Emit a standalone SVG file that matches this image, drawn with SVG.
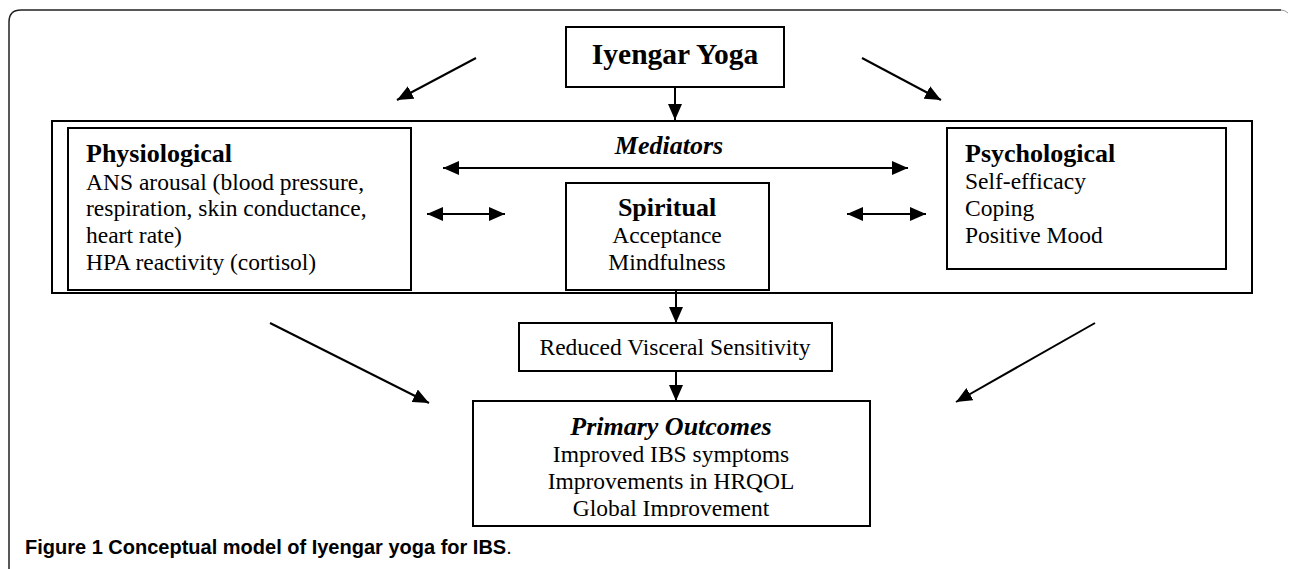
<svg xmlns="http://www.w3.org/2000/svg" width="1290" height="569" viewBox="0 0 1290 569">
<style>
.box{fill:none;stroke:#000;stroke-width:2}
.t{font-family:"Liberation Serif","Times New Roman",serif;font-size:23.5px;fill:#000}
.h{font-weight:bold;font-size:26px}
.i{font-style:italic}
.m{text-anchor:middle}
.c{stroke:#000;stroke-width:2;fill:none}
.cap{font-family:"Liberation Sans",Arial,sans-serif;font-size:20px;fill:#000}
</style>
<defs>
<marker id="ah" viewBox="0 0 16 14" refX="16" refY="7" markerWidth="16" markerHeight="14" markerUnits="userSpaceOnUse" orient="auto-start-reverse">
<path d="M0,0 L16,7 L0,14 z" fill="#000"/>
</marker>
<clipPath id="pc"><rect x="470" y="395" width="405" height="122"/></clipPath>
</defs>
<rect width="1290" height="569" fill="#fff"/>
<path d="M9,569 V22 Q9,10 21,10 H1281" fill="none" stroke="#222" stroke-width="1.5"/>
<path d="M1281,10 Q1285,10 1288,13" fill="none" stroke="#999" stroke-width="1"/>

<g id="iyengar">
<rect class="box" x="566" y="27" width="218" height="60"/>
<text class="t m" x="675" y="64" style="font-weight:bold;font-size:29.5px">Iyengar Yoga</text>
</g>

<g id="mediators">
<rect class="box" x="52" y="121" width="1200" height="172"/>
<text class="t h i m" x="669" y="154">Mediators</text>
</g>

<g id="physiological">
<rect class="box" x="68" y="128" width="343" height="162"/>
<text class="t h" x="86" y="162">Physiological</text>
<text class="t" x="86" y="190">ANS arousal (blood pressure,</text>
<text class="t" x="86" y="216">respiration, skin conductance,</text>
<text class="t" x="86" y="243">heart rate)</text>
<text class="t" x="86" y="270">HPA reactivity (cortisol)</text>
</g>

<g id="psychological">
<rect class="box" x="947" y="128" width="279" height="141"/>
<text class="t h" x="965" y="162">Psychological</text>
<text class="t" x="965" y="189">Self-efficacy</text>
<text class="t" x="965" y="216">Coping</text>
<text class="t" x="965" y="243">Positive Mood</text>
</g>

<g id="spiritual">
<rect class="box" x="566" y="183" width="203" height="107"/>
<text class="t h m" x="667" y="216">Spiritual</text>
<text class="t m" x="667" y="243">Acceptance</text>
<text class="t m" x="667" y="270">Mindfulness</text>
</g>

<g id="visceral">
<rect class="box" x="519" y="323" width="313" height="48"/>
<text class="t m" x="675" y="355">Reduced Visceral Sensitivity</text>
</g>

<g id="outcomes">
<rect class="box" x="473" y="401" width="397" height="125"/>
<g clip-path="url(#pc)">
<text class="t h i m" x="671" y="435">Primary Outcomes</text>
<text class="t m" x="671" y="462">Improved IBS symptoms</text>
<text class="t m" x="671" y="489">Improvements in HRQOL</text>
<text class="t m" x="671" y="516">Global Improvement</text>
</g>
</g>

<g id="connectors">
<line class="c" x1="675" y1="87" x2="675" y2="120" marker-end="url(#ah)"/>
<line class="c" x1="476" y1="58" x2="397" y2="100" marker-end="url(#ah)"/>
<line class="c" x1="862" y1="58" x2="941" y2="100" marker-end="url(#ah)"/>
<line class="c" x1="443" y1="168" x2="908" y2="168" marker-start="url(#ah)" marker-end="url(#ah)"/>
<line class="c" x1="427" y1="214" x2="505" y2="214" marker-start="url(#ah)" marker-end="url(#ah)"/>
<line class="c" x1="847" y1="214" x2="926" y2="214" marker-start="url(#ah)" marker-end="url(#ah)"/>
<line class="c" x1="676" y1="290" x2="676" y2="323" marker-end="url(#ah)"/>
<line class="c" x1="676" y1="371" x2="676" y2="401" marker-end="url(#ah)"/>
<line class="c" x1="270" y1="323" x2="429" y2="403" marker-end="url(#ah)"/>
<line class="c" x1="1095" y1="323" x2="956" y2="402" marker-end="url(#ah)"/>
</g>

<text class="cap" x="25" y="554"><tspan font-weight="bold">Figure 1 Conceptual model of Iyengar yoga for IBS</tspan>.</text>
</svg>
